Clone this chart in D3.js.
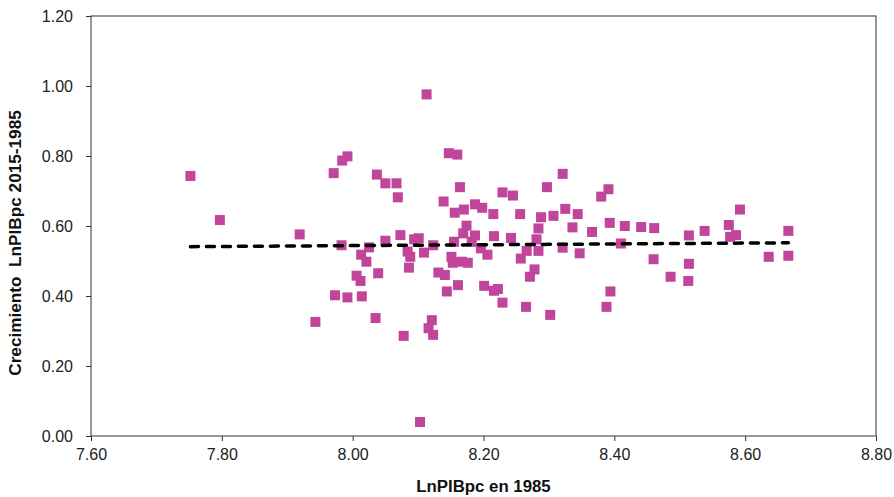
<!DOCTYPE html>
<html>
<head>
<meta charset="utf-8">
<script src="https://cdn.jsdelivr.net/npm/d3@7"></script>
<style>
  body { margin: 0; background: #fff; }
  .axis text { font-family: "Liberation Sans", Arial, sans-serif; font-size: 16px; fill: #222; }
  .axis path, .axis line { stroke: #333; }
  .title { font-family: "Liberation Sans", Arial, sans-serif; font-size: 16.8px; font-weight: bold; fill: #111; }
</style>
</head>
<body>
<div id="chart"></div>
<script>
// LnPIBpc in 1985 (x) and growth 2015-1985 (y)
var lnPib1985 = [7.752, 7.797, 7.919, 7.943, 7.971, 7.984, 7.992, 8.037, 7.983, 8.025,
  8.013, 8.021, 8.006, 8.012, 7.973, 7.992, 8.014, 8.035, 8.039, 8.147,
  8.160, 8.050, 8.067, 8.069, 8.164, 8.139, 8.156, 8.170, 8.187, 8.198,
  8.215, 8.229, 8.245, 8.256, 8.297, 8.321, 8.288, 8.307, 8.325, 8.344,
  8.336, 8.284, 8.281, 8.174, 8.169, 8.187, 8.182, 8.155, 8.216, 8.242,
  8.073, 8.050, 8.094, 8.101, 8.123, 8.084, 8.088, 8.109, 8.151, 8.153,
  8.167, 8.176, 8.196, 8.206, 8.257, 8.266, 8.284, 8.321, 8.347, 8.366,
  8.086, 8.131, 8.141, 8.144, 8.161, 8.201, 8.216, 8.222, 8.229, 8.265,
  8.278, 8.271, 8.302, 8.121, 8.116, 8.123, 8.078, 8.113, 8.103, 8.391,
  8.380, 8.393, 8.416, 8.441, 8.461, 8.410, 8.460, 8.514, 8.538, 8.514,
  8.486, 8.513, 8.394, 8.388, 8.592, 8.575, 8.577, 8.586, 8.636, 8.666,
  8.666];
var crecimiento = [0.743, 0.617, 0.576, 0.326, 0.751, 0.787, 0.799, 0.747, 0.545, 0.539,
  0.518, 0.498, 0.458, 0.443, 0.402, 0.396, 0.399, 0.337, 0.465, 0.808,
  0.804, 0.722, 0.722, 0.682, 0.711, 0.670, 0.638, 0.647, 0.662, 0.652,
  0.634, 0.696, 0.687, 0.634, 0.711, 0.749, 0.625, 0.629, 0.649, 0.634,
  0.596, 0.593, 0.562, 0.601, 0.579, 0.573, 0.555, 0.555, 0.571, 0.566,
  0.574, 0.558, 0.562, 0.565, 0.545, 0.527, 0.512, 0.524, 0.512, 0.495,
  0.498, 0.495, 0.536, 0.518, 0.507, 0.529, 0.529, 0.538, 0.522, 0.583,
  0.481, 0.467, 0.460, 0.413, 0.431, 0.429, 0.415, 0.420, 0.381, 0.369,
  0.476, 0.455, 0.346, 0.331, 0.308, 0.289, 0.286, 0.976, 0.040, 0.705,
  0.684, 0.609, 0.600, 0.597, 0.594, 0.550, 0.505, 0.573, 0.586, 0.492,
  0.455, 0.443, 0.413, 0.369, 0.647, 0.603, 0.569, 0.574, 0.512, 0.586,
  0.515];

// Linear trend line end points
var trendX = [7.752, 8.666];
var trendY = [0.541, 0.552];

var xTicks = [7.6, 7.8, 8.0, 8.2, 8.4, 8.6, 8.8];
var yTicks = [0, 0.2, 0.4, 0.6, 0.8, 1.0, 1.2];

var W = 894, H = 497;
var margin = {top: 16, right: 18, bottom: 61, left: 91};
var width = W - margin.left - margin.right;
var height = H - margin.top - margin.bottom;

var svg = d3.select("#chart").append("svg")
  .attr("width", W)
  .attr("height", H);

var g = svg.append("g")
  .attr("transform", "translate(" + margin.left + "," + margin.top + ")");

var x = d3.scaleLinear().domain([7.6, 8.8]).range([0, width]);
var y = d3.scaleLinear().domain([0, 1.2]).range([height, 0]);

// plot border
g.append("rect")
  .attr("width", width)
  .attr("height", height)
  .attr("fill", "none")
  .attr("stroke", "#333");

g.append("g")
  .attr("class", "axis")
  .attr("transform", "translate(0," + height + ")")
  .call(d3.axisBottom(x).tickValues(xTicks).tickFormat(d3.format(".2f")).tickSize(5).tickPadding(8))
  .call(function(a) { a.select(".domain").remove(); });

g.append("g")
  .attr("class", "axis")
  .call(d3.axisLeft(y).tickValues(yTicks).tickFormat(d3.format(".2f")).tickSize(5).tickPadding(13))
  .call(function(a) { a.select(".domain").remove(); });

// points
var pts = d3.range(lnPib1985.length);
var s = 10;
g.selectAll("rect.pt")
  .data(pts)
  .enter().append("rect")
  .attr("class", "pt")
  .attr("x", function(i) { return x(lnPib1985[i]) - s / 2; })
  .attr("y", function(i) { return y(crecimiento[i]) - s / 2; })
  .attr("width", s)
  .attr("height", s)
  .attr("fill", "#c0459b");

// trend line
var line = d3.line()
  .x(function(i) { return x(trendX[i]); })
  .y(function(i) { return y(trendY[i]); });

g.append("path")
  .datum([0, 1])
  .attr("d", line)
  .attr("fill", "none")
  .attr("stroke", "#000")
  .attr("stroke-width", 3.5)
  .attr("stroke-linecap", "round")
  .attr("stroke-dasharray", "8,8");

// axis titles
svg.append("text")
  .attr("class", "title")
  .attr("x", margin.left + width / 2)
  .attr("y", 492)
  .attr("text-anchor", "middle")
  .text("LnPIBpc en 1985");

svg.append("text")
  .attr("class", "title")
  .attr("transform", "translate(21,243) rotate(-90)")
  .attr("text-anchor", "middle")
  .style("font-size", "17.2px")
  .style("white-space", "pre")
  .text("Crecimiento  LnPIBpc 2015-1985");
</script>
</body>
</html>
